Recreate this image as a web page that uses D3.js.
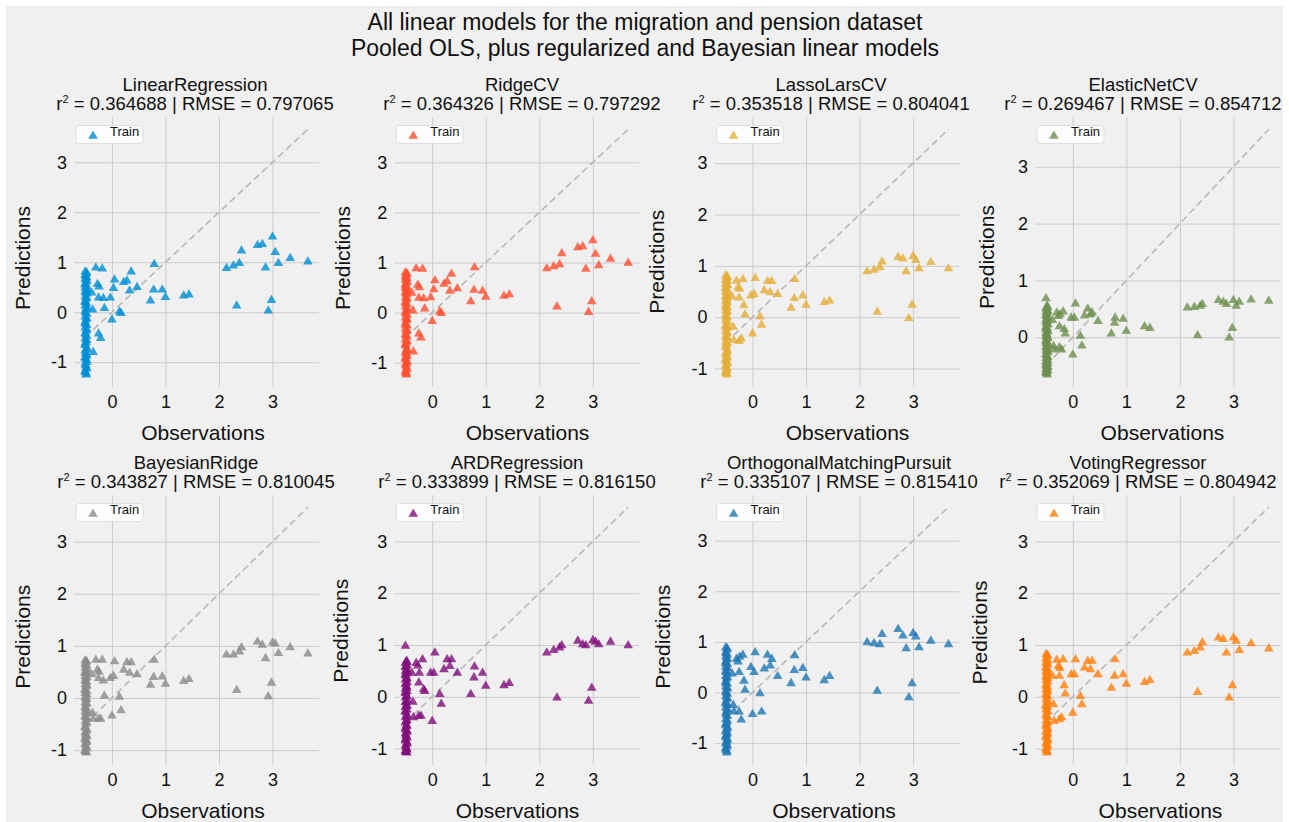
<!DOCTYPE html>
<html><head><meta charset="utf-8">
<script src="https://cdn.jsdelivr.net/npm/d3@7"></script>
<style>body{margin:0;background:#fff}svg{display:block;font-family:"Liberation Sans",Arial,sans-serif}</style>
</head><body><svg id="c" width="1289" height="822"></svg>
<script>
const suptitleLines = ["All linear models for the migration and pension dataset",
  "Pooled OLS, plus regularized and Bayesian linear models"];
const modelNames = ["LinearRegression","RidgeCV","LassoLarsCV","ElasticNetCV",
  "BayesianRidge","ARDRegression","OrthogonalMatchingPursuit","VotingRegressor"];
const r2Values = ["0.364688","0.364326","0.353518","0.269467","0.343827","0.333899","0.335107","0.352069"];
const rmseValues = ["0.797065","0.797292","0.804041","0.854712","0.810045","0.816150","0.815410","0.804942"];
const colors = ["#008fd5","#fc4f30","#e5ae38","#6d904f","#8b8b8b","#810f7c","#1f77b4","#ff7f0e"];
const tickValues = [-1,0,1,2,3];
const legendLabel = "Train";

// observations outside the dense column at the minimum
const observations = [-0.38,-0.36,-0.35,-0.30,-0.27,-0.25,-0.25,-0.24,-0.21,-0.18,-0.16,-0.14,-0.03,0.00,0.03,0.05,
  0.14,0.17,0.22,0.28,0.33,0.36,0.47,0.72,0.78,0.79,0.94,1.00,1.34,1.44,
  2.14,2.27,2.33,2.38,2.42,2.72,2.81,2.87,2.92,2.98,3.00,3.05,3.11,3.33,3.66];
const predLinear = [0.39,0.05,-0.80,0.89,0.56,0.29,-0.43,0.51,-0.52,0.87,0.28,0.08,0.29,-0.15,0.48,0.65,
  0.01,-0.02,0.60,0.63,0.43,0.81,0.50,0.23,0.45,0.96,0.45,0.30,0.33,0.35,
  0.88,0.93,0.13,0.98,1.23,1.34,1.36,0.89,0.03,0.24,1.51,1.20,0.98,1.08,1.01];
const predRidge = [0.39,0.04,-0.78,0.88,0.55,0.29,-0.42,0.50,-0.50,0.87,0.28,0.08,0.30,-0.17,0.46,0.64,
  0.02,-0.01,0.57,0.62,0.43,0.77,0.48,0.22,0.45,0.90,0.43,0.31,0.33,0.36,
  0.88,0.92,0.12,0.96,1.18,1.30,1.32,0.87,0.01,0.22,1.44,1.17,0.94,1.07,0.99];
const predLasso = [0.40,-0.19,-0.45,0.71,0.58,0.38,-0.47,0.55,-0.42,0.74,0.23,0.05,0.42,-0.32,0.45,0.76,
  0.01,-0.15,0.52,0.70,0.48,0.70,0.45,0.18,0.37,0.74,0.42,0.24,0.29,0.32,
  0.89,0.92,0.10,0.97,1.08,1.17,1.14,0.89,-0.02,0.24,1.19,1.11,0.95,1.07,0.95];
const predElastic = [0.30,-0.16,-0.22,0.43,0.37,0.19,-0.18,0.40,-0.22,0.45,0.14,0.06,0.34,-0.31,0.34,0.59,
  0.02,-0.15,0.38,0.50,0.40,0.43,0.28,0.06,0.25,0.34,0.32,0.11,0.19,0.16,
  0.52,0.53,0.03,0.55,0.58,0.65,0.62,0.58,-0.01,0.16,0.65,0.55,0.62,0.66,0.64];
const predBayes = [0.45,-0.29,-0.40,0.73,0.54,0.38,-0.40,0.50,-0.40,0.73,0.33,0.04,0.38,-0.34,0.42,0.70,
  0.02,-0.24,0.54,0.68,0.48,0.68,0.45,0.25,0.40,0.73,0.41,0.27,0.32,0.36,
  0.83,0.83,0.15,0.89,0.97,1.08,1.02,0.76,0.03,0.29,1.06,1.04,0.86,0.97,0.85];
const predARD = [0.46,-0.10,-0.40,0.65,0.60,0.27,-0.37,0.46,-0.37,0.72,0.14,0.11,0.46,-0.47,0.46,0.85,
  0.05,-0.14,0.53,0.72,0.59,0.72,0.46,0.05,0.37,0.58,0.46,0.21,0.22,0.26,
  0.85,0.90,-0.02,0.95,0.99,1.08,1.01,0.99,-0.08,0.17,1.09,1.06,1.01,1.06,0.99];
const predOMP = [0.37,-0.25,-0.38,0.66,0.61,0.40,-0.38,0.70,-0.54,0.74,0.23,0.05,0.50,-0.43,0.40,0.79,
  -0.02,-0.38,0.47,0.74,0.53,0.66,0.32,0.18,0.44,0.73,0.48,0.29,0.24,0.32,
  0.99,0.97,0.03,0.95,1.15,1.25,1.12,0.87,-0.10,0.18,1.17,1.10,0.89,1.02,0.95];
const predVoting = [0.40,-0.15,-0.47,0.71,0.59,0.40,-0.44,0.55,-0.40,0.72,0.22,0.06,0.43,-0.31,0.43,0.72,
  0.01,-0.15,0.56,0.69,0.53,0.69,0.43,0.17,0.40,0.72,0.43,0.25,0.28,0.32,
  0.85,0.88,0.09,0.95,1.05,1.14,1.11,0.85,-0.02,0.22,1.14,1.08,0.90,1.03,0.93];

// dense column of observations at the minimum value
const columnObservations = [-0.50,-0.48,-0.50,-0.47,-0.50,-0.48,-0.50,-0.47,-0.50,-0.48,-0.50,-0.47,-0.50,-0.48,-0.50,-0.47,
  -0.50,-0.48,-0.50,-0.47,-0.50,-0.48,-0.50,-0.47,-0.50,-0.48,-0.50,-0.47,-0.50,-0.48,-0.50,-0.47,-0.50,-0.48,-0.50,-0.47,
  -0.50,-0.48,-0.50,-0.48,
  -0.47,-0.49,-0.47,-0.50,-0.47,-0.49,-0.47,-0.50,-0.47,-0.49,-0.47,-0.50,-0.47,-0.49,-0.47,-0.50,-0.47,-0.49,-0.47,-0.50,
  -0.47,-0.49,-0.47,-0.50,-0.48];
const columnLinear = [0.81,0.77,0.74,0.69,0.66,0.61,0.57,0.52,0.49,0.44,0.41,0.37,0.31,0.27,0.22,0.17,0.13,0.06,0.02,-0.04,
  -0.09,-0.15,-0.20,-0.26,-0.31,-0.37,-0.42,-0.48,-0.53,-0.60,-0.66,-0.71,-0.77,-0.84,-0.90,-0.96,-1.03,-1.10,-1.17,-1.25,
  0.79,0.71,0.63,0.55,0.46,0.39,0.29,0.20,0.10,-0.01,-0.12,-0.23,-0.34,-0.45,-0.56,-0.63,-0.74,-0.81,-0.87,-0.93,
  -1.00,-1.06,-1.13,-1.20,-1.23];
const columnRidge = [0.80,0.76,0.73,0.68,0.65,0.60,0.56,0.51,0.48,0.43,0.40,0.36,0.30,0.26,0.21,0.16,0.12,0.05,0.01,-0.05,
  -0.10,-0.15,-0.21,-0.26,-0.32,-0.37,-0.43,-0.48,-0.54,-0.60,-0.66,-0.72,-0.78,-0.84,-0.90,-0.97,-1.03,-1.10,-1.17,-1.24,
  0.78,0.70,0.62,0.53,0.45,0.38,0.28,0.19,0.08,-0.02,-0.13,-0.24,-0.35,-0.46,-0.57,-0.63,-0.75,-0.81,-0.87,-0.93,
  -1.00,-1.06,-1.13,-1.20,-1.22];
const columnLasso = [0.81,0.77,0.73,0.70,0.65,0.62,0.57,0.53,0.49,0.45,0.41,0.36,0.32,0.27,0.23,0.18,0.13,0.09,0.04,-0.01,
  -0.06,-0.11,-0.16,-0.21,-0.27,-0.32,-0.37,-0.42,-0.48,-0.53,-0.59,-0.64,-0.70,-0.76,-0.82,-0.88,-0.94,-1.00,-1.06,-1.12,
  0.79,0.71,0.63,0.55,0.47,0.39,0.30,0.20,0.11,0.01,-0.09,-0.19,-0.30,-0.40,-0.50,-0.56,-0.67,-0.73,-0.79,-0.85,
  -0.91,-0.97,-1.03,-1.09,-1.10];
const columnElastic = [0.68,0.55,0.51,0.47,0.44,0.41,0.37,0.34,0.31,0.28,0.25,0.22,0.19,0.16,0.13,0.10,0.07,0.04,0.01,-0.02,
  -0.05,-0.08,-0.11,-0.14,-0.17,-0.21,-0.24,-0.27,-0.30,-0.33,-0.37,-0.40,-0.43,-0.47,-0.50,-0.53,-0.56,-0.60,-0.63,-0.66,
  0.53,0.49,0.45,0.39,0.35,0.29,0.23,0.17,0.11,0.05,-0.01,-0.07,-0.12,-0.19,-0.25,-0.31,-0.35,-0.42,-0.45,-0.48,
  -0.52,-0.55,-0.58,-0.61,-0.64];
const columnBayes = [0.72,0.69,0.66,0.62,0.58,0.54,0.50,0.46,0.42,0.38,0.34,0.30,0.26,0.22,0.18,0.13,0.09,0.05,0.01,-0.03,
  -0.08,-0.12,-0.17,-0.21,-0.26,-0.30,-0.35,-0.40,-0.45,-0.50,-0.55,-0.60,-0.66,-0.71,-0.77,-0.82,-0.88,-0.94,-1.00,-1.05,
  0.70,0.64,0.56,0.48,0.40,0.32,0.24,0.15,0.07,-0.01,-0.10,-0.19,-0.28,-0.37,-0.47,-0.57,-0.63,-0.69,-0.74,-0.80,
  -0.85,-0.91,-0.97,-1.02,-1.04];
const columnARD = [0.98,0.69,0.65,0.61,0.57,0.53,0.49,0.45,0.41,0.37,0.33,0.28,0.24,0.20,0.15,0.11,0.07,0.02,-0.02,-0.07,
  -0.11,-0.16,-0.20,-0.25,-0.30,-0.35,-0.40,-0.45,-0.50,-0.55,-0.60,-0.66,-0.71,-0.77,-0.82,-0.88,-0.94,-1.00,-1.04,-1.08,
  0.67,0.59,0.51,0.43,0.35,0.26,0.17,0.09,0.00,-0.09,-0.18,-0.27,-0.37,-0.47,-0.57,-0.63,-0.68,-0.74,-0.79,-0.85,
  -0.91,-0.97,-1.02,-1.06,-1.07];
const columnOMP = [0.89,0.84,0.79,0.74,0.70,0.65,0.61,0.56,0.51,0.47,0.42,0.37,0.32,0.27,0.22,0.17,0.12,0.07,0.02,-0.03,
  -0.08,-0.14,-0.19,-0.25,-0.30,-0.36,-0.41,-0.47,-0.53,-0.59,-0.65,-0.71,-0.77,-0.83,-0.89,-0.95,-1.01,-1.07,-1.13,-1.19,
  0.87,0.77,0.67,0.58,0.49,0.40,0.30,0.19,0.09,-0.01,-0.11,-0.22,-0.33,-0.44,-0.56,-0.62,-0.68,-0.74,-0.80,-0.86,
  -0.92,-0.98,-1.04,-1.10,-1.16];
const columnVoting = [0.82,0.78,0.74,0.70,0.66,0.62,0.57,0.53,0.49,0.45,0.40,0.36,0.32,0.27,0.23,0.18,0.14,0.09,0.05,0.00,
  -0.05,-0.10,-0.15,-0.20,-0.25,-0.30,-0.35,-0.40,-0.46,-0.51,-0.57,-0.62,-0.68,-0.73,-0.79,-0.85,-0.91,-0.97,-1.03,-1.08,
  0.80,0.72,0.64,0.55,0.47,0.38,0.30,0.21,0.12,0.02,-0.08,-0.18,-0.28,-0.38,-0.49,-0.54,-0.60,-0.65,-0.71,-0.76,
  -0.82,-0.88,-0.94,-1.00,-1.06];

const predictions = [predLinear,predRidge,predLasso,predElastic,predBayes,predARD,predOMP,predVoting];
const columnPredictions = [columnLinear,columnRidge,columnLasso,columnElastic,columnBayes,columnARD,columnOMP,columnVoting];

// text placement (page x/y) measured per panel
const titleCenterX = [195,522,831,1143,196,517,839,1138];
const xlabelCenterX = [203,527.5,847.5,1162.5,203,517.5,834,1160.5];
const ylabelX = [23,342.5,656.7,987,23.3,341,663.3,980];
const ylabelY = [258,258,261.7,257,636.7,630.7,636.7,632.5];

const svg = d3.select("#c");
svg.append("rect").attr("x",6).attr("y",6).attr("width",1277).attr("height",816).attr("fill","#f0f0f0");

const txt = "#111";
svg.selectAll("text.sup").data(suptitleLines).join("text").attr("class","sup")
  .attr("x",645).attr("y",(d,i)=>30+i*26).attr("text-anchor","middle")
  .attr("font-size",23).attr("fill",txt).text(d=>d);

const W = 245, H = 270;
function pad(ext, f){const s=ext[1]-ext[0];return [ext[0]-s*f, ext[1]+s*f];}

modelNames.forEach((name,i)=>{
  const col = i%4, row = Math.floor(i/4);
  const left = 74 + col*320.3, top = 117 + row*378;
  const pts = columnObservations.map((o,j)=>({o, p:columnPredictions[i][j]}))
    .concat(observations.map((o,j)=>({o, p:predictions[i][j]})));
  const xExt = d3.extent(pts, d=>d.o);
  const yExt = d3.extent(pts.map(d=>d.p).concat(xExt));
  const x = d3.scaleLinear().domain(pad(xExt,0.05)).range([0,W]);
  const y = d3.scaleLinear().domain(pad(yExt,0.05)).range([H,0]);
  const g = svg.append("g").attr("transform",`translate(${left},${top})`);

  const yTicks = tickValues.filter(t=>t>=y.domain()[0] && t<=y.domain()[1]);
  const xTicks = tickValues.filter(t=>t>=x.domain()[0] && t<=x.domain()[1]);
  const gx = g.append("g").attr("transform",`translate(0,${H})`)
    .call(d3.axisBottom(x).tickValues(xTicks).tickFormat(d=>String(d)).tickSize(-H).tickPadding(8));
  const gy = g.append("g")
    .call(d3.axisLeft(y).tickValues(yTicks).tickFormat(d=>String(d)).tickSize(-W).tickPadding(7));
  [gx,gy].forEach(a=>{
    a.select(".domain").remove();
    a.selectAll(".tick line").attr("stroke","#cbcbcb").attr("stroke-width",1);
    a.selectAll(".tick text").attr("font-size",18).attr("fill",txt).attr("font-family","Liberation Sans, Arial, sans-serif");
  });

  g.append("line").attr("x1",x(xExt[0])).attr("y1",y(xExt[0])).attr("x2",x(xExt[1])).attr("y2",y(xExt[1]))
    .attr("stroke","#b8b8b8").attr("stroke-width",1.6).attr("stroke-dasharray","7,4");

  const tri = d3.symbol().type(d3.symbolTriangle).size(40);
  g.append("g").selectAll("path").data(pts).join("path")
    .attr("d",tri).attr("transform",d=>`translate(${x(d.o)},${y(d.p)})`)
    .attr("fill",colors[i]).attr("fill-opacity",0.8);

  // legend
  const lg = g.append("g").attr("transform","translate(2,8.5)");
  lg.append("rect").attr("width",67).attr("height",18).attr("rx",3)
    .attr("fill","#ffffff").attr("fill-opacity",0.85).attr("stroke","#d8d8d8").attr("stroke-width",0.8);
  lg.append("path").attr("d",tri).attr("transform","translate(17,10.5)").attr("fill",colors[i]).attr("fill-opacity",0.8);
  lg.append("text").attr("x",34).attr("y",10.5).attr("font-size",13).attr("fill",txt).text(legendLabel);

  // titles
  const tx = titleCenterX[i] - left;
  g.append("text").attr("x",tx).attr("y",-26).attr("text-anchor","middle").attr("font-size",18.5).attr("fill",txt).text(name);
  const t2 = g.append("text").attr("x",tx).attr("y",-7).attr("text-anchor","middle").attr("font-size",18.5).attr("fill",txt);
  t2.append("tspan").text("r");
  t2.append("tspan").attr("font-size",11).attr("dy",-7).text("2");
  t2.append("tspan").attr("dy",7).text(` = ${r2Values[i]} | RMSE = ${rmseValues[i]}`);

  // axis labels
  g.append("text").attr("x",xlabelCenterX[i]-left).attr("y",H+53).attr("text-anchor","middle")
    .attr("font-size",21).attr("fill",txt).text("Observations");
  g.append("text").attr("transform",`translate(${ylabelX[i]-left+7},${ylabelY[i]-top}) rotate(-90)`).attr("text-anchor","middle")
    .attr("font-size",21).attr("fill",txt).text("Predictions");
});
</script></body></html>
